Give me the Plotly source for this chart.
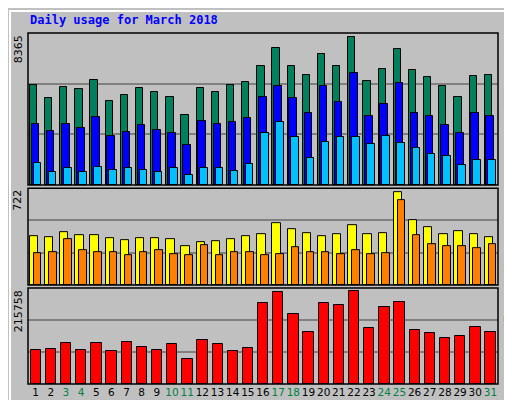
import plotly.graph_objects as go

days = list(range(1, 32))
weekend = [3, 4, 10, 11, 17, 18, 24, 25, 31]

hits = [5640, 4902, 5526, 5413, 5924, 4731, 5072, 5469, 5242, 4958, 3993, 5469, 5242, 5640, 5810,
        6718, 7740, 6718, 6207, 7400, 6718, 8365, 5867, 6548, 7684, 6491, 6094, 5583, 4958, 6151, 6207]
files = [3482, 3085, 3482, 3255, 3880, 2801, 3028, 3425, 3142, 2971, 2290, 3653, 3482, 3596, 3823,
         4958, 5583, 4902, 4107, 5583, 4675, 6321, 3936, 4561, 5753, 4107, 3936, 3425, 2971, 4107, 3936]
pages = [1268, 757, 984, 757, 1041, 871, 984, 871, 757, 984, 587, 984, 984, 814, 1211,
         2971, 3596, 2744, 1552, 2460, 2744, 2744, 2347, 2801, 2403, 2120, 1779, 1665, 1154, 1438, 1438]
visits = [378, 370, 409, 386, 386, 362, 347, 362, 362, 354, 300, 331, 339, 354, 378,
          394, 480, 433, 401, 378, 394, 464, 394, 401, 722, 503, 448, 394, 417, 394, 370]
sites = [245, 253, 354, 268, 253, 253, 229, 253, 268, 237, 229, 308, 229, 253, 253,
         229, 237, 292, 253, 253, 237, 268, 237, 245, 659, 386, 315, 300, 300, 284, 315]
kbytes = [78740, 81100, 95280, 78740, 95280, 76380, 97640, 85830, 78740, 92910, 57480, 102360, 92910, 76380, 83460,
          189760, 213390, 163780, 121260, 189760, 185040, 215758, 130710, 180310, 192130, 125980, 118900, 107090, 111810, 133070, 121260]

fig = go.Figure()

def add_bars(vals, color, offset, width, xa, ya):
    fig.add_trace(go.Bar(x=days, y=vals, marker=dict(color=color, line=dict(color="black", width=1)),
                         offset=offset, width=width, xaxis=xa, yaxis=ya, showlegend=False))

add_bars(hits, "#00805C", -0.38, 0.48, "x", "y")
add_bars(files, "#0000FF", -0.26, 0.5, "x", "y")
add_bars(pages, "#00C0FF", -0.13, 0.5, "x", "y")
add_bars(visits, "#FFFF00", -0.38, 0.55, "x2", "y2")
add_bars(sites, "#FF8000", -0.12, 0.5, "x2", "y2")
add_bars(kbytes, "#FF0000", -0.33, 0.68, "x3", "y3")

top1 = max(hits) * 455 / 442
top2 = max(visits) * 288 / 277
top3 = max(kbytes) * 284 / 274

xcommon = dict(range=[0.5, 31.5], showgrid=False, zeroline=False, fixedrange=True, automargin=False)
ycommon = dict(showticklabels=False, showgrid=True, gridcolor="#808080", gridwidth=1.5,
               zeroline=False, ticks="", automargin=False)
ticktext = ["<span style='color:#008040'>%d</span>" % d if d in weekend else str(d) for d in days]

fig.update_layout(
    width=512, height=400, margin=dict(l=20, r=22, t=25, b=24, autoexpand=False),
    paper_bgcolor="#C0C0C0", plot_bgcolor="#C0C0C0", barmode="overlay", bargap=0,
    font=dict(family="DejaVu Sans", size=11, color="black"),
    xaxis=dict(xcommon, anchor="y", showticklabels=False),
    xaxis2=dict(xcommon, anchor="y2", showticklabels=False),
    xaxis3=dict(xcommon, anchor="y3", tickvals=days, ticktext=ticktext, ticks="",
                tickangle=0, tickfont=dict(size=10.5)),
    yaxis=dict(ycommon, domain=[0.567, 1], range=[0, top1], tickvals=[top1 / 3, top1 * 2 / 3]),
    yaxis2=dict(ycommon, domain=[0.282, 0.558], range=[0, top2], tickvals=[top2 / 3, top2 * 2 / 3]),
    yaxis3=dict(ycommon, domain=[0, 0.2735], range=[0, top3], tickvals=[top3 / 3, top3 * 2 / 3]),
)

# frames
fig.add_shape(type="rect", xref="paper", yref="paper", x0=-18 / 470, x1=488 / 470, y0=-22 / 351, y1=373 / 351,
              line=dict(color="white", width=2))
for d in ([0.567, 1], [0.282, 0.558], [0, 0.2735]):
    fig.add_shape(type="rect", xref="paper", yref="paper", x0=0, x1=1, y0=d[0], y1=d[1],
                  line=dict(color="black", width=1.5))

fig.add_annotation(text="<b>Daily usage for March 2018</b>", xref="paper", yref="paper", x=0, y=1.01,
                   xanchor="left", yanchor="bottom", showarrow=False,
                   font=dict(family="DejaVu Sans Mono", size=12, color="#0000FF"))

for label, ytop in (("8365", 1), ("722", 0.558), ("215758", 0.2735)):
    fig.add_annotation(text=label, xref="paper", yref="paper", x=-0.021, y=ytop, xanchor="center",
                       yanchor="top", textangle=-90, showarrow=False, font=dict(size=11))

right = [
    ("<span style='color:#00C0FF'>Pages</span> / <span style='color:#0000FF'>Files</span> / "
     "<span style='color:#00805C'>Hits</span>", 1),
    ("<span style='color:#FF8000'>Sites</span> / <span style='color:#FFFF00'>Visits</span>", 0.558),
    ("<span style='color:#FF0000'>KBytes</span>", 0.2735),
]
for label, ytop in right:
    fig.add_annotation(text=label, xref="paper", yref="paper", x=1.022, y=ytop, xanchor="center",
                       yanchor="top", textangle=-90, showarrow=False,
                       font=dict(family="DejaVu Sans Mono", size=10, color="#404040"))

fig.write_html("out.html")
